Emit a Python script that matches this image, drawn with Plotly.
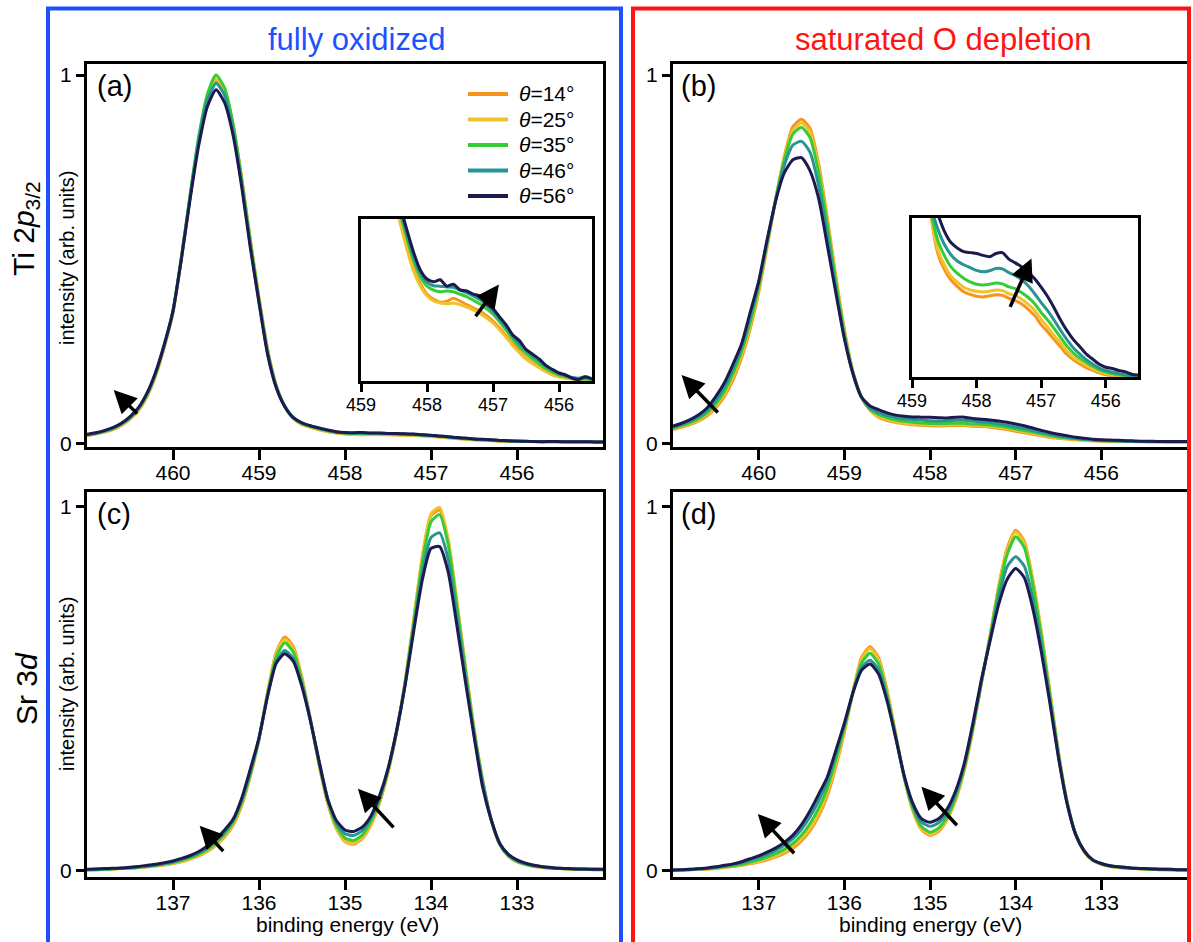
import plotly.graph_objects as go

W, H = 1193, 942
FONT = "Liberation Sans, Arial, sans-serif"

# ---------------- data ----------------
angles = ["14", "25", "35", "46", "56"]
colors = ["#F7941D", "#F2C12E", "#36CC36", "#2A9494", "#1B1B50"]

ti_be = [461.0, 460.9, 460.8, 460.7, 460.6, 460.5, 460.4, 460.3, 460.2, 460.1,
         460.0, 459.9, 459.8, 459.7, 459.6, 459.5, 459.4, 459.3, 459.2, 459.1,
         459.0, 458.9, 458.8, 458.7, 458.6, 458.5, 458.4, 458.3, 458.2, 458.1,
         458.0, 457.9, 457.8, 457.7, 457.6, 457.5, 457.4, 457.3, 457.2, 457.1,
         457.0, 456.9, 456.8, 456.7, 456.6, 456.5, 456.4, 456.3, 456.2, 456.1,
         456.0, 455.9, 455.8, 455.7, 455.6, 455.5, 455.4, 455.3, 455.2, 455.1,
         455.0]

sr_be = [138.0, 137.9, 137.8, 137.7, 137.6, 137.5, 137.4, 137.3, 137.2, 137.1,
         137.0, 136.9, 136.8, 136.7, 136.6, 136.5, 136.4, 136.3, 136.2, 136.1,
         136.0, 135.9, 135.8, 135.7, 135.6, 135.5, 135.4, 135.3, 135.2, 135.1,
         135.0, 134.9, 134.8, 134.7, 134.6, 134.5, 134.4, 134.3, 134.2, 134.1,
         134.0, 133.9, 133.8, 133.7, 133.6, 133.5, 133.4, 133.3, 133.2, 133.1,
         133.0, 132.9, 132.8, 132.7, 132.6, 132.5, 132.4, 132.3, 132.2, 132.1,
         132.0]

# (a) Ti 2p3/2, fully oxidized
ti_ox_14 = [0.022, 0.026, 0.031, 0.038, 0.049, 0.066, 0.090, 0.128, 0.185, 0.262,
            0.355, 0.505, 0.670, 0.825, 0.935, 0.985, 0.955, 0.862, 0.718, 0.552,
            0.397, 0.256, 0.158, 0.101, 0.068, 0.052, 0.0445, 0.038, 0.0325, 0.0288,
            0.0262, 0.0249, 0.0242, 0.0244, 0.0252, 0.0245, 0.0236, 0.0228, 0.0220, 0.0208,
            0.0195, 0.0178, 0.0158, 0.0138, 0.0120, 0.0103, 0.0090, 0.0080, 0.0070, 0.0062,
            0.0056, 0.0053, 0.0051, 0.0050, 0.0050, 0.0049, 0.0047, 0.0046, 0.0045, 0.0044,
            0.0043]
ti_ox_25 = [0.022, 0.026, 0.031, 0.039, 0.050, 0.067, 0.091, 0.130, 0.187, 0.264,
            0.357, 0.507, 0.672, 0.828, 0.940, 0.990, 0.958, 0.862, 0.716, 0.549,
            0.393, 0.254, 0.157, 0.101, 0.067, 0.051, 0.0435, 0.0372, 0.0318, 0.0282,
            0.0258, 0.0245, 0.0240, 0.0238, 0.0240, 0.0236, 0.0230, 0.0223, 0.0214, 0.0203,
            0.0190, 0.0173, 0.0154, 0.0134, 0.0116, 0.0100, 0.0088, 0.0078, 0.0068, 0.0060,
            0.0055, 0.0052, 0.0050, 0.0049, 0.0049, 0.0048, 0.0047, 0.0046, 0.0045, 0.0044,
            0.0043]
ti_ox_35 = [0.023, 0.027, 0.033, 0.040, 0.052, 0.069, 0.094, 0.133, 0.190, 0.267,
            0.360, 0.510, 0.678, 0.835, 0.948, 1.000, 0.965, 0.866, 0.716, 0.547,
            0.390, 0.250, 0.156, 0.101, 0.069, 0.054, 0.046, 0.040, 0.0345, 0.0305,
            0.0282, 0.0272, 0.0268, 0.0270, 0.0268, 0.0262, 0.0256, 0.0247, 0.0238, 0.0226,
            0.0212, 0.0193, 0.0172, 0.0150, 0.0130, 0.0114, 0.0100, 0.0088, 0.0076, 0.0067,
            0.0060, 0.0056, 0.0052, 0.0050, 0.0050, 0.0049, 0.0047, 0.0046, 0.0045, 0.0044,
            0.0043]
ti_ox_46 = [0.024, 0.028, 0.034, 0.042, 0.054, 0.071, 0.096, 0.136, 0.193, 0.269,
            0.360, 0.507, 0.672, 0.825, 0.932, 0.978, 0.945, 0.849, 0.703, 0.537,
            0.385, 0.246, 0.154, 0.101, 0.070, 0.055, 0.047, 0.041, 0.0355, 0.0315,
            0.0292, 0.0283, 0.0282, 0.0280, 0.0279, 0.0272, 0.0266, 0.0258, 0.0249, 0.0236,
            0.0220, 0.0200, 0.0179, 0.0157, 0.0138, 0.0122, 0.0108, 0.0096, 0.0082, 0.0072,
            0.0064, 0.0058, 0.0054, 0.0052, 0.0056, 0.0051, 0.0048, 0.0046, 0.0045, 0.0044,
            0.0043]
ti_ox_56 = [0.025, 0.029, 0.035, 0.043, 0.055, 0.073, 0.098, 0.138, 0.195, 0.270,
            0.360, 0.505, 0.665, 0.810, 0.915, 0.960, 0.925, 0.835, 0.695, 0.530,
            0.382, 0.242, 0.152, 0.100, 0.070, 0.056, 0.048, 0.042, 0.0365, 0.0322,
            0.0300, 0.0293, 0.0298, 0.0282, 0.0287, 0.0273, 0.0270, 0.0262, 0.0258, 0.0238,
            0.0226, 0.0205, 0.0185, 0.0160, 0.0146, 0.0124, 0.0112, 0.0100, 0.0084, 0.0074,
            0.0065, 0.0060, 0.0052, 0.0049, 0.0055, 0.0050, 0.0048, 0.0046, 0.0045, 0.0044,
            0.0043]

# (b) Ti 2p3/2, saturated O depletion
ti_dep_14 = [0.038, 0.044, 0.051, 0.061, 0.075, 0.097, 0.128, 0.172, 0.232, 0.310,
             0.410, 0.535, 0.665, 0.780, 0.860, 0.880, 0.855, 0.760, 0.615, 0.455,
             0.310, 0.195, 0.125, 0.090, 0.071, 0.0625, 0.057, 0.0535, 0.0506, 0.0492,
             0.0482, 0.0478, 0.0483, 0.0490, 0.0487, 0.0470, 0.0458, 0.0440, 0.0412, 0.0378,
             0.0330, 0.0292, 0.0250, 0.0212, 0.0170, 0.0142, 0.0120, 0.0100, 0.0085, 0.0072,
             0.0062, 0.0058, 0.0055, 0.0052, 0.0050, 0.0050, 0.0049, 0.0048, 0.0048, 0.0047,
             0.0047]
ti_dep_25 = [0.040, 0.046, 0.054, 0.064, 0.079, 0.102, 0.134, 0.180, 0.240, 0.318,
             0.418, 0.540, 0.665, 0.775, 0.850, 0.870, 0.845, 0.750, 0.607, 0.450,
             0.307, 0.195, 0.125, 0.091, 0.073, 0.065, 0.059, 0.0558, 0.0530, 0.0515,
             0.0508, 0.0504, 0.0508, 0.0515, 0.0512, 0.0495, 0.0485, 0.0465, 0.0438, 0.0406,
             0.0358, 0.0318, 0.0272, 0.0232, 0.0188, 0.0155, 0.0132, 0.0112, 0.0095, 0.0080,
             0.0068, 0.0062, 0.0058, 0.0055, 0.0052, 0.0051, 0.0050, 0.0049, 0.0049, 0.0048,
             0.0048]
ti_dep_35 = [0.042, 0.049, 0.057, 0.068, 0.084, 0.108, 0.142, 0.190, 0.250, 0.328,
             0.425, 0.545, 0.665, 0.770, 0.840, 0.858, 0.830, 0.735, 0.595, 0.440,
             0.300, 0.193, 0.125, 0.093, 0.078, 0.070, 0.064, 0.0605, 0.0578, 0.0558,
             0.0546, 0.0542, 0.0546, 0.0552, 0.0548, 0.0532, 0.0522, 0.0500, 0.0475, 0.0442,
             0.0395, 0.0355, 0.0310, 0.0262, 0.0215, 0.0178, 0.0150, 0.0128, 0.0108, 0.0090,
             0.0078, 0.0068, 0.0062, 0.0057, 0.0053, 0.0051, 0.0050, 0.0049, 0.0049, 0.0048,
             0.0048]
ti_dep_46 = [0.044, 0.052, 0.061, 0.073, 0.090, 0.117, 0.153, 0.203, 0.262, 0.342,
             0.435, 0.550, 0.662, 0.755, 0.810, 0.820, 0.790, 0.700, 0.568, 0.420,
             0.290, 0.190, 0.126, 0.096, 0.084, 0.076, 0.0705, 0.0670, 0.0650, 0.0635,
             0.0620, 0.0612, 0.0618, 0.0630, 0.0628, 0.0608, 0.0592, 0.0570, 0.0538, 0.0495,
             0.0448, 0.0405, 0.0355, 0.0300, 0.0250, 0.0205, 0.0172, 0.0142, 0.0118, 0.0098,
             0.0085, 0.0076, 0.0068, 0.0062, 0.0056, 0.0054, 0.0052, 0.0051, 0.0050, 0.0050,
             0.0049]
ti_dep_56 = [0.047, 0.055, 0.065, 0.078, 0.097, 0.128, 0.165, 0.215, 0.270, 0.355,
             0.440, 0.555, 0.660, 0.735, 0.770, 0.776, 0.740, 0.665, 0.540, 0.410,
             0.285, 0.190, 0.126, 0.102, 0.092, 0.083, 0.077, 0.074, 0.072, 0.0715,
             0.0710, 0.0700, 0.0693, 0.0710, 0.0715, 0.0680, 0.0660, 0.0638, 0.0610, 0.0575,
             0.0530, 0.0480, 0.0420, 0.0355, 0.0298, 0.0250, 0.0212, 0.0172, 0.0145, 0.0118,
             0.0102, 0.0095, 0.0085, 0.0078, 0.0065, 0.0060, 0.0058, 0.0056, 0.0055, 0.0054,
             0.0053]

# (c) Sr 3d, fully oxidized
sr_ox_14 = [0.002, 0.003, 0.004, 0.005, 0.006, 0.007, 0.009, 0.011, 0.013, 0.016,
            0.020, 0.025, 0.032, 0.041, 0.053, 0.070, 0.093, 0.125, 0.180, 0.260,
            0.360, 0.490, 0.600, 0.642, 0.615, 0.530, 0.415, 0.290, 0.185, 0.115,
            0.080, 0.073, 0.088, 0.125, 0.185, 0.270, 0.380, 0.520, 0.690, 0.860,
            0.975, 0.990, 0.905, 0.738, 0.560, 0.390, 0.250, 0.140, 0.072, 0.040,
            0.025, 0.017, 0.012, 0.009, 0.007, 0.006, 0.005, 0.004, 0.004, 0.003,
            0.003]
sr_ox_25 = [0.002, 0.003, 0.004, 0.005, 0.006, 0.007, 0.009, 0.011, 0.014, 0.017,
            0.021, 0.026, 0.033, 0.043, 0.055, 0.072, 0.096, 0.128, 0.183, 0.262,
            0.362, 0.490, 0.597, 0.636, 0.610, 0.527, 0.413, 0.290, 0.186, 0.117,
            0.082, 0.075, 0.090, 0.127, 0.187, 0.272, 0.382, 0.522, 0.692, 0.865,
            0.980, 0.998, 0.910, 0.740, 0.562, 0.390, 0.250, 0.140, 0.072, 0.040,
            0.025, 0.017, 0.012, 0.009, 0.007, 0.006, 0.005, 0.004, 0.004, 0.003,
            0.003]
sr_ox_35 = [0.003, 0.003, 0.004, 0.005, 0.007, 0.008, 0.010, 0.012, 0.015, 0.019,
            0.023, 0.029, 0.036, 0.046, 0.059, 0.077, 0.101, 0.134, 0.189, 0.267,
            0.363, 0.485, 0.587, 0.626, 0.600, 0.520, 0.412, 0.293, 0.192, 0.124,
            0.090, 0.083, 0.098, 0.135, 0.193, 0.276, 0.383, 0.518, 0.682, 0.848,
            0.958, 0.978, 0.895, 0.728, 0.552, 0.385, 0.248, 0.140, 0.073, 0.041,
            0.026, 0.018, 0.013, 0.010, 0.008, 0.006, 0.005, 0.005, 0.004, 0.004,
            0.003]
sr_ox_46 = [0.003, 0.004, 0.005, 0.006, 0.007, 0.009, 0.011, 0.013, 0.016, 0.020,
            0.025, 0.031, 0.039, 0.049, 0.063, 0.082, 0.106, 0.140, 0.195, 0.272,
            0.364, 0.480, 0.575, 0.605, 0.583, 0.510, 0.410, 0.297, 0.198, 0.132,
            0.102, 0.097, 0.110, 0.144, 0.199, 0.280, 0.384, 0.514, 0.670, 0.820,
            0.915, 0.928, 0.855, 0.700, 0.535, 0.376, 0.243, 0.140, 0.074, 0.043,
            0.028, 0.019, 0.014, 0.011, 0.008, 0.007, 0.006, 0.005, 0.004, 0.004,
            0.004]
sr_ox_56 = [0.004, 0.005, 0.006, 0.007, 0.008, 0.010, 0.012, 0.015, 0.018, 0.022,
            0.027, 0.034, 0.042, 0.053, 0.068, 0.088, 0.112, 0.142, 0.200, 0.280,
            0.365, 0.480, 0.570, 0.596, 0.575, 0.505, 0.410, 0.300, 0.195, 0.138,
            0.112, 0.108, 0.120, 0.150, 0.205, 0.280, 0.385, 0.510, 0.660, 0.800,
            0.885, 0.890, 0.820, 0.675, 0.520, 0.370, 0.230, 0.140, 0.075, 0.045,
            0.030, 0.021, 0.015, 0.011, 0.009, 0.007, 0.006, 0.005, 0.005, 0.004,
            0.004]

# (d) Sr 3d, saturated O depletion
sr_dep_14 = [0.001, 0.002, 0.003, 0.004, 0.005, 0.007, 0.009, 0.012, 0.015, 0.019,
             0.024, 0.030, 0.038, 0.048, 0.062, 0.082, 0.110, 0.150, 0.205, 0.285,
             0.380, 0.490, 0.585, 0.615, 0.585, 0.495, 0.375, 0.255, 0.165, 0.113,
             0.097, 0.108, 0.140, 0.195, 0.275, 0.385, 0.515, 0.645, 0.780, 0.885,
             0.935, 0.905, 0.800, 0.655, 0.490, 0.325, 0.190, 0.100, 0.052, 0.028,
             0.018, 0.012, 0.009, 0.007, 0.006, 0.005, 0.004, 0.003, 0.003, 0.002,
             0.002]
sr_dep_25 = [0.001, 0.002, 0.003, 0.004, 0.005, 0.007, 0.010, 0.013, 0.016, 0.021,
             0.026, 0.033, 0.041, 0.052, 0.067, 0.088, 0.117, 0.158, 0.212, 0.292,
             0.385, 0.490, 0.580, 0.610, 0.580, 0.490, 0.373, 0.255, 0.167, 0.116,
             0.100, 0.111, 0.143, 0.198, 0.278, 0.388, 0.515, 0.643, 0.777, 0.880,
             0.930, 0.900, 0.797, 0.652, 0.488, 0.324, 0.190, 0.100, 0.053, 0.029,
             0.019, 0.013, 0.010, 0.008, 0.006, 0.005, 0.004, 0.003, 0.003, 0.002,
             0.002]
sr_dep_35 = [0.001, 0.002, 0.003, 0.005, 0.006, 0.008, 0.011, 0.014, 0.018, 0.024,
             0.030, 0.038, 0.047, 0.059, 0.075, 0.098, 0.130, 0.172, 0.226, 0.305,
             0.392, 0.490, 0.570, 0.597, 0.568, 0.482, 0.370, 0.256, 0.172, 0.122,
             0.106, 0.117, 0.149, 0.203, 0.283, 0.392, 0.517, 0.640, 0.768, 0.868,
             0.917, 0.888, 0.785, 0.642, 0.482, 0.320, 0.188, 0.100, 0.054, 0.029,
             0.019, 0.013, 0.010, 0.008, 0.006, 0.005, 0.004, 0.004, 0.003, 0.003,
             0.002]
sr_dep_46 = [0.002, 0.003, 0.004, 0.005, 0.007, 0.010, 0.013, 0.017, 0.022, 0.029,
             0.036, 0.045, 0.056, 0.070, 0.088, 0.114, 0.149, 0.193, 0.243, 0.320,
             0.400, 0.490, 0.558, 0.578, 0.552, 0.473, 0.367, 0.258, 0.179, 0.134,
             0.122, 0.132, 0.160, 0.212, 0.290, 0.398, 0.520, 0.635, 0.750, 0.835,
             0.862, 0.837, 0.748, 0.618, 0.470, 0.314, 0.186, 0.100, 0.055, 0.030,
             0.020, 0.014, 0.011, 0.009, 0.007, 0.006, 0.005, 0.004, 0.004, 0.003,
             0.003]
sr_dep_56 = [0.002, 0.003, 0.004, 0.006, 0.008, 0.011, 0.015, 0.019, 0.025, 0.033,
             0.041, 0.051, 0.063, 0.078, 0.098, 0.127, 0.165, 0.210, 0.257, 0.330,
             0.405, 0.488, 0.550, 0.568, 0.540, 0.465, 0.365, 0.260, 0.185, 0.143,
             0.133, 0.143, 0.170, 0.220, 0.295, 0.404, 0.525, 0.630, 0.730, 0.800,
             0.830, 0.805, 0.720, 0.600, 0.460, 0.310, 0.185, 0.100, 0.055, 0.030,
             0.020, 0.014, 0.011, 0.009, 0.007, 0.006, 0.005, 0.004, 0.004, 0.003,
             0.003]

ti_ticks = [460, 459, 458, 457, 456]
inset_ticks = [459, 458, 457, 456]
sr_ticks = [137, 136, 135, 134, 133]

# arrows: (axis suffix, head_x, head_y, tail_x, tail_y)
arrows = [
    ("", 460.69, 0.145, 460.40, 0.077),
    ("5", 456.91, 0.0286, 457.28, 0.0203),
    ("2", 460.90, 0.186, 460.46, 0.080),
    ("6", 457.15, 0.0684, 457.49, 0.0417),
    ("3", 136.69, 0.124, 136.40, 0.050),
    ("3", 134.85, 0.225, 134.42, 0.115),
    ("4", 137.01, 0.156, 136.57, 0.044),
    ("4", 135.10, 0.231, 134.67, 0.121),
]

# ---------------- figure ----------------
def px(x):
    return x / W

def py(y):
    return 1 - y / H

fig = go.Figure()

panels = [
    ("x", "y", ti_be, [ti_ox_14, ti_ox_25, ti_ox_35, ti_ox_46, ti_ox_56]),
    ("x2", "y2", ti_be, [ti_dep_14, ti_dep_25, ti_dep_35, ti_dep_46, ti_dep_56]),
    ("x3", "y3", sr_be, [sr_ox_14, sr_ox_25, sr_ox_35, sr_ox_46, sr_ox_56]),
    ("x4", "y4", sr_be, [sr_dep_14, sr_dep_25, sr_dep_35, sr_dep_46, sr_dep_56]),
    ("x5", "y5", ti_be, [ti_ox_14, ti_ox_25, ti_ox_35, ti_ox_46, ti_ox_56]),
    ("x6", "y6", ti_be, [ti_dep_14, ti_dep_25, ti_dep_35, ti_dep_46, ti_dep_56]),
]
for xa, ya, xs, series in panels:
    for ang, col, ys in zip(angles, colors, series):
        fig.add_trace(go.Scatter(
            x=xs, y=ys, mode="lines", xaxis=xa, yaxis=ya,
            line=dict(color=col, width=3, shape="spline", smoothing=0.6),
            name="θ=%s°" % ang, showlegend=False, hoverinfo="skip"))

main_x = [87, 603]
right_x = [673, 1187]
top_y = [64, 447]
bot_y = [492, 877]

def dom_x(a):
    return [px(a[0]), px(a[1])]

def dom_y(a):
    return [py(a[1]), py(a[0])]

tickfont = dict(family=FONT, size=21, color="black")

def xax(domain, rng, tickvals, anchor, tlen=10, fsize=21, standoff=-5):
    return dict(domain=domain, range=rng, tickvals=tickvals, ticks="outside",
                ticklen=tlen, tickwidth=3, tickcolor="black",
                tickfont=dict(family=FONT, size=fsize, color="black"),
                ticklabelstandoff=standoff,
                showline=True, linewidth=3, linecolor="black", mirror=True,
                showgrid=False, zeroline=False, anchor=anchor, fixedrange=True,
                automargin=False)

def yax(domain, rng, anchor, showticks=True):
    d = dict(domain=domain, range=rng, showline=True, linewidth=3,
             linecolor="black", mirror=True, showgrid=False, zeroline=False,
             anchor=anchor, fixedrange=True, automargin=False)
    if showticks:
        d.update(tickvals=[0, 1], ticktext=["0", "1"], ticks="outside",
                 ticklen=8, tickwidth=3, tickcolor="black", tickfont=tickfont)
    else:
        d.update(showticklabels=False, ticks="")
    return d

yr = [-0.0095, 1.030]
yr2 = [-0.017, 1.040]

fig.update_layout(
    width=W, height=H,
    margin=dict(l=0, r=0, t=0, b=0, pad=0, autoexpand=False),
    autosize=False,
    paper_bgcolor="white", plot_bgcolor="white", showlegend=False,
    font=dict(family=FONT, color="black"),
    xaxis=xax(dom_x(main_x), [461, 455], ti_ticks, "y"),
    yaxis=yax(dom_y(top_y), yr, "x"),
    xaxis2=xax(dom_x(right_x), [461, 455], ti_ticks, "y2"),
    yaxis2=yax(dom_y(top_y), yr, "x2"),
    xaxis3=xax(dom_x(main_x), [138, 132], sr_ticks, "y3"),
    yaxis3=yax(dom_y(bot_y), yr2, "x3"),
    xaxis4=xax(dom_x(right_x), [138, 132], sr_ticks, "y4"),
    yaxis4=yax(dom_y(bot_y), yr2, "x4"),
    xaxis5=xax(dom_x([361, 592]), [459, 455.5], inset_ticks, "y5", tlen=8, fsize=18, standoff=-3),
    yaxis5=yax(dom_y([219, 381]), [0.0045, 0.045], "x5", showticks=False),
    xaxis6=xax(dom_x([912, 1138]), [459, 455.5], inset_ticks, "y6", tlen=8, fsize=18, standoff=-3),
    yaxis6=yax(dom_y([218, 377]), [0.005, 0.09], "x6", showticks=False),
)

shapes = [
    dict(type="rect", xref="paper", yref="paper", x0=px(48), x1=px(621),
         y0=-0.1, y1=py(8.5), line=dict(color="#1E50FF", width=4)),
    dict(type="rect", xref="paper", yref="paper", x0=px(633), x1=px(1189),
         y0=-0.1, y1=py(8.5), line=dict(color="#FF1414", width=4)),
]
annotations = []

# legend (manual) in panel (a)
for i, (ang, col) in enumerate(zip(angles, colors)):
    yy = 94 + 25.5 * i
    shapes.append(dict(type="line", xref="paper", yref="paper",
                       x0=px(468), x1=px(508), y0=py(yy), y1=py(yy),
                       line=dict(color=col, width=4)))
    annotations.append(dict(xref="paper", yref="paper", x=px(517), y=py(yy),
                            xanchor="left", yanchor="middle", showarrow=False,
                            text="<i>θ</i>=%s°" % ang,
                            font=dict(family=FONT, size=21, color="black")))

def txt(x, y, t, size, color="black", angle=0, xanchor="center"):
    annotations.append(dict(xref="paper", yref="paper", x=px(x), y=py(y),
                            xanchor=xanchor, yanchor="middle", showarrow=False,
                            text=t, textangle=angle,
                            font=dict(family=FONT, size=size, color=color)))

txt(356, 40, "fully oxidized", 31, "#1E50FF")
txt(943, 40, "saturated O depletion", 31, "#FF1414")
txt(26, 228, "Ti 2<i>p</i><sub>3/2</sub>", 30, angle=-90)
txt(26, 688, "Sr 3<i>d</i>", 30, angle=-90)
txt(67, 258, "intensity (arb. units)", 20, angle=-90)
txt(67, 684, "intensity (arb. units)", 20, angle=-90)
txt(347, 924, "binding energy (eV)", 21)
txt(930, 924, "binding energy (eV)", 21)
txt(95, 86, "(a)", 29, xanchor="left")
txt(679, 86, "(b)", 29, xanchor="left")
txt(95, 514, "(c)", 29, xanchor="left")
txt(679, 514, "(d)", 29, xanchor="left")

for suf, hx, hy, tx, ty in arrows:
    annotations.append(dict(xref="x" + suf, yref="y" + suf, axref="x" + suf,
                            ayref="y" + suf, x=hx, y=hy, ax=tx, ay=ty, text="",
                            showarrow=True, arrowhead=2, arrowsize=1.3,
                            arrowwidth=3.5, arrowcolor="black", standoff=0))

fig.update_layout(shapes=shapes, annotations=annotations)
fig.write_html("out.html")
